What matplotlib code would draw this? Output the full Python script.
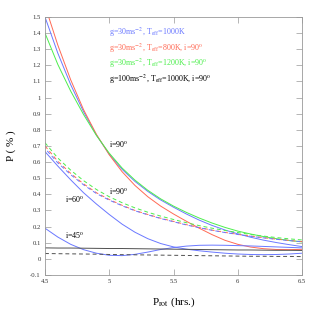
import matplotlib
matplotlib.use("Agg")
import matplotlib.pyplot as plt
from matplotlib.ticker import MultipleLocator, FuncFormatter

plt.rcParams['font.family'] = ['Liberation Serif', 'DejaVu Serif']
plt.rcParams['mathtext.fontset'] = 'stix'

x = [4.5, 4.6, 4.7, 4.8, 4.9, 5.0, 5.1, 5.2, 5.3, 5.4, 5.5,
     5.6, 5.7, 5.8, 5.9, 6.0, 6.1, 6.2, 6.3, 6.4, 6.5]

# i=90 solid curves
blue_90 = [1.50, 1.275, 1.08, 0.912, 0.768, 0.648, 0.555, 0.48, 0.418, 0.365, 0.32,
           0.278, 0.24, 0.207, 0.179, 0.155, 0.134, 0.116, 0.101, 0.088, 0.076]
red_90 = [1.57, 1.325, 1.11, 0.925, 0.772, 0.645, 0.54, 0.455, 0.385, 0.327, 0.278,
          0.233, 0.19, 0.15, 0.115, 0.09, 0.073, 0.063, 0.058, 0.057, 0.059]
green_90 = [1.40, 1.205, 1.04, 0.895, 0.765, 0.655, 0.563, 0.488, 0.425, 0.372, 0.327,
            0.288, 0.253, 0.222, 0.195, 0.172, 0.154, 0.138, 0.125, 0.114, 0.105]

# dashed curves
red_dash = [0.70, 0.605, 0.53, 0.465, 0.41, 0.368, 0.332, 0.30, 0.275, 0.252, 0.232,
            0.212, 0.194, 0.178, 0.164, 0.152, 0.141, 0.131, 0.122, 0.114, 0.107]
blue_dash = [0.685, 0.595, 0.522, 0.459, 0.405, 0.364, 0.329, 0.298, 0.273, 0.25, 0.23,
             0.21, 0.193, 0.177, 0.163, 0.151, 0.14, 0.13, 0.121, 0.113, 0.106]
green_dash = [0.72, 0.625, 0.55, 0.485, 0.43, 0.385, 0.348, 0.316, 0.289, 0.265, 0.244,
              0.224, 0.206, 0.19, 0.176, 0.163, 0.151, 0.141, 0.132, 0.124, 0.117]

# lower inclinations (blue)
blue_60 = [0.665, 0.575, 0.49, 0.41, 0.34, 0.275, 0.215, 0.165, 0.125, 0.095, 0.074,
           0.06, 0.05, 0.042, 0.035, 0.03, 0.027, 0.026, 0.027, 0.03, 0.035]
blue_45 = [0.19, 0.135, 0.09, 0.057, 0.035, 0.022, 0.02, 0.028, 0.042, 0.058, 0.07,
           0.079, 0.084, 0.085, 0.084, 0.082, 0.08, 0.077, 0.074, 0.071, 0.068]

# g=100 curves
black_solid = [0.068, 0.067, 0.067, 0.066, 0.065, 0.064, 0.064, 0.063, 0.062, 0.061, 0.06,
               0.059, 0.058, 0.057, 0.056, 0.055, 0.055, 0.054, 0.053, 0.053, 0.052]
black_dash = [0.033, 0.032, 0.031, 0.03, 0.029, 0.027, 0.026, 0.025, 0.024, 0.023, 0.022,
              0.021, 0.02, 0.019, 0.018, 0.017, 0.016, 0.016, 0.015, 0.015, 0.014]

legend_texts = [
    r'g=30ms$^{-2}$, T$_{\rm eff}$=1000K',
    r'g=30ms$^{-2}$, T$_{\rm eff}$=800K, i=90$^{\rm o}$',
    r'g=30ms$^{-2}$, T$_{\rm eff}$=1200K, i=90$^{\rm o}$',
    r'g=100ms$^{-2}$, T$_{\rm eff}$=1000K, i=90$^{\rm o}$',
]
legend_y = [1.407, 1.308, 1.215, 1.115]

BLUE = '#6a78ff'
RED = '#ff6a55'
GREEN = '#4cee4c'
BLACK = '#505050'

fig = plt.figure(figsize=(3.19, 3.19), dpi=100)
ax = fig.add_axes([0.141, 0.138, 0.806, 0.809])

lw = 0.7
ax.plot(x, blue_90, color=BLUE, lw=lw)
ax.plot(x, red_90, color=RED, lw=lw)
ax.plot(x, green_90, color=GREEN, lw=lw)
ax.plot(x, green_dash, color=GREEN, lw=lw, ls=(0, (4, 3)))
ax.plot(x, red_dash, color=RED, lw=lw, ls=(0, (4, 3)))
ax.plot(x, blue_dash, color=BLUE, lw=lw, ls=(3.5, (4, 3)))
ax.plot(x, blue_60, color=BLUE, lw=lw)
ax.plot(x, blue_45, color=BLUE, lw=lw)
ax.plot(x, black_solid, color=BLACK, lw=lw)
ax.plot(x, black_dash, color=BLACK, lw=lw, ls=(0, (4, 3)))

for t, yy, c in zip(legend_texts, legend_y, [BLUE, RED, GREEN, 'black']):
    ax.text(5.0, yy, t, color=c, fontsize=5.8, va='center', ha='left')

ax.text(5.0, 0.706, r'i=90$^{\rm o}$', fontsize=5.8, va='center', ha='left')
ax.text(5.0, 0.415, r'i=90$^{\rm o}$', fontsize=5.8, va='center', ha='left')
ax.text(4.655, 0.365, r'i=60$^{\rm o}$', fontsize=5.8, va='center', ha='left')
ax.text(4.655, 0.142, r'i=45$^{\rm o}$', fontsize=5.8, va='center', ha='left')

ax.set_xlim(4.5, 6.5)
ax.set_ylim(-0.1, 1.5)
ax.xaxis.set_major_locator(MultipleLocator(0.5))
ax.yaxis.set_major_locator(MultipleLocator(0.1))
ax.xaxis.set_major_formatter(FuncFormatter(lambda v, p: '%g' % round(v, 2)))
ax.yaxis.set_major_formatter(FuncFormatter(lambda v, p: '%g' % round(v, 2)))
ax.tick_params(direction='in', top=True, right=True, length=4, width=0.5,
               color='#999999', labelsize=4.8, labelcolor='#333333', pad=3)
for s in ax.spines.values():
    s.set_color('#999999')
    s.set_linewidth(0.6)

ax.set_xlabel(r'P$_{\rm rot}$ (hrs.)', fontsize=8, labelpad=8)
ax.set_ylabel('P ( % )', fontsize=8, labelpad=10)

fig.savefig('out.png', dpi=100)
